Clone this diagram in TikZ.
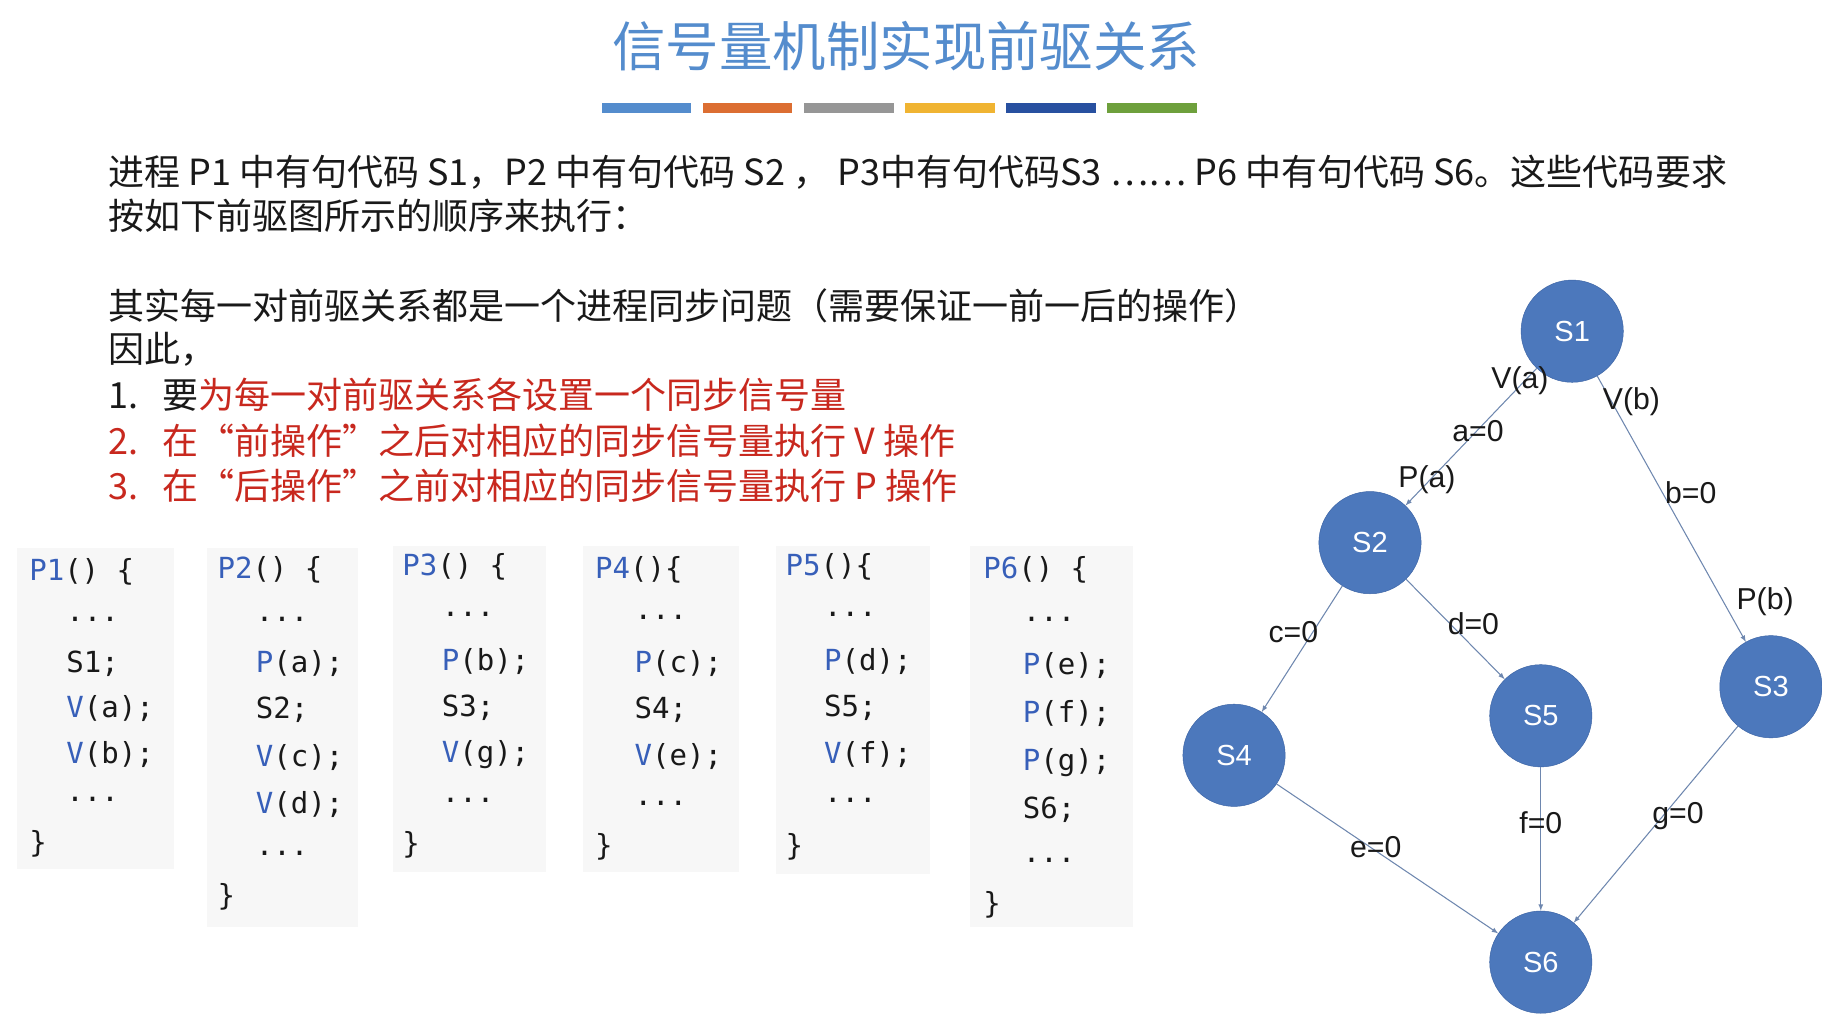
\documentclass[tikz,border=0pt]{standalone}
\usepackage{fontspec}
\setmainfont{Noto Sans CJK SC}
\newfontfamily\cjk{Noto Sans CJK SC}
\newfontfamily\codef{DejaVu Sans Mono}
\newfontfamily\lab{Liberation Sans}
\definecolor{ttl}{RGB}{84,140,205}
\definecolor{nodefill}{RGB}{76,120,188}
\definecolor{nodeedge}{RGB}{60,100,165}
\definecolor{kw}{RGB}{55,95,185}
\definecolor{redt}{RGB}{200,40,30}
\definecolor{codebg}{RGB}{247,247,247}
\definecolor{edgec}{RGB}{110,135,175}
\definecolor{txt}{RGB}{25,25,25}
\definecolor{bc1}{RGB}{84,140,205}
\definecolor{bc2}{RGB}{220,110,50}
\definecolor{bc3}{RGB}{150,150,150}
\definecolor{bc4}{RGB}{240,180,50}
\definecolor{bc5}{RGB}{40,80,160}
\definecolor{bc6}{RGB}{110,160,60}
\begin{document}
\begin{tikzpicture}[x=1pt,y=-1pt,
  sn/.style={circle,fill=nodefill,draw=nodeedge,minimum size=88pt,inner sep=0pt,text=white,font=\lab\fontsize{25}{28}\selectfont},
  ed/.style={draw=edgec,line width=0.9pt,-latex},
  el/.style={font=\lab\fontsize{26}{28}\selectfont,text=txt},
  tx/.style={anchor=west,font=\cjk\fontsize{31}{34}\selectfont,text=txt,inner sep=0pt},
  cd/.style={anchor=west,font=\codef\fontsize{25}{30}\selectfont,text=txt,inner sep=0pt},
  bg/.style={fill=codebg,draw=none}]
\useasboundingbox (0,0) rectangle (1568,878);
\fill[white] (0,0) rectangle (1568,878);
\node[font=\cjk\fontsize{46}{50}\selectfont,text=ttl] (title) at (780,40) {信号量机制实现前驱关系};
\foreach \c/\x in {bc1/518,bc2/605,bc3/692,bc4/779,bc5/866,bc6/953}{
  \fill[\c] (\x,89) rectangle (\x+77,97);}
\node[tx] (t1) at (93,148) {进程 P1 中有句代码 S1，P2 中有句代码 S2 ，  P3中有句代码S3 …… P6 中有句代码 S6。这些代码要求};
\node[tx] (t2) at (93,186) {按如下前驱图所示的顺序来执行：};
\node[tx] (t3) at (93,263) {其实每一对前驱关系都是一个进程同步问题（需要保证一前一后的操作）};
\node[tx] (t4) at (93,301) {因此，};
\node[tx] (t5) at (93,340) {1.\ \ \ 要\textcolor{redt}{为每一对前驱关系各设置一个同步信号量}};
\node[tx,text=redt] (t6) at (93,379) {2.\ \ \ 在“前操作”之后对相应的同步信号量执行 V 操作};
\node[tx,text=redt] (t7) at (93,418) {3.\ \ \ 在“后操作”之前对相应的同步信号量执行 P 操作};
% code boxes
\fill[bg] (15,472) rectangle (150,748);
\fill[bg] (178,472) rectangle (308,798);
\fill[bg] (338,470) rectangle (470,750);
\fill[bg] (502,470) rectangle (636,750);
\fill[bg] (668,470) rectangle (800,752);
\fill[bg] (835,470) rectangle (975,798);
% P1
\node[cd] (a1) at (25,492) {\textcolor{kw}{P1}() \{};
\node[cd] (a2) at (57,533) {...};
\node[cd] (a3) at (57,571) {S1;};
\node[cd] (a4) at (57,610) {\textcolor{kw}{V}(a);};
\node[cd] (a5) at (57,649) {\textcolor{kw}{V}(b);};
\node[cd] (a6) at (57,688) {...};
\node[cd] (a7) at (25,726) {\}};
% P2
\node[cd] (b1) at (187,490) {\textcolor{kw}{P2}() \{};
\node[cd] (b2) at (220,533) {...};
\node[cd] (b3) at (220,571) {\textcolor{kw}{P}(a);};
\node[cd] (b4) at (220,611) {S2;};
\node[cd] (b5) at (220,652) {\textcolor{kw}{V}(c);};
\node[cd] (b6) at (220,692) {\textcolor{kw}{V}(d);};
\node[cd] (b7) at (220,734) {...};
\node[cd] (b8) at (187,772) {\}};
% P3
\node[cd] (c1) at (346,488) {\textcolor{kw}{P3}() \{};
\node[cd] (c2) at (380,529) {...};
\node[cd] (c3) at (380,569) {\textcolor{kw}{P}(b);};
\node[cd] (c4) at (380,609) {S3;};
\node[cd] (c5) at (380,649) {\textcolor{kw}{V}(g);};
\node[cd] (c6) at (380,689) {...};
\node[cd] (c7) at (346,727) {\}};
% P4
\node[cd] (d1) at (512,490) {\textcolor{kw}{P4}()\{};
\node[cd] (d2) at (546,531) {...};
\node[cd] (d3) at (546,571) {\textcolor{kw}{P}(c);};
\node[cd] (d4) at (546,611) {S4;};
\node[cd] (d5) at (546,651) {\textcolor{kw}{V}(e);};
\node[cd] (d6) at (546,691) {...};
\node[cd] (d7) at (512,729) {\}};
% P5
\node[cd] (e1) at (676,488) {\textcolor{kw}{P5}()\{};
\node[cd] (e2) at (709,529) {...};
\node[cd] (e3) at (709,569) {\textcolor{kw}{P}(d);};
\node[cd] (e4) at (709,609) {S5;};
\node[cd] (e5) at (709,649) {\textcolor{kw}{V}(f);};
\node[cd] (e6) at (709,689) {...};
\node[cd] (e7) at (676,729) {\}};
% P6
\node[cd] (f1) at (846,490) {\textcolor{kw}{P6}() \{};
\node[cd] (f2) at (880,533) {...};
\node[cd] (f3) at (880,573) {\textcolor{kw}{P}(e);};
\node[cd] (f4) at (880,614) {\textcolor{kw}{P}(f);};
\node[cd] (f5) at (880,656) {\textcolor{kw}{P}(g);};
\node[cd] (f6) at (880,697) {S6;};
\node[cd] (f7) at (880,740) {...};
\node[cd] (f8) at (846,779) {\}};
% graph
\node[sn] (S1) at (1353,285) {S1};
\node[sn] (S2) at (1179,467) {S2};
\node[sn] (S3) at (1524,591) {S3};
\node[sn] (S4) at (1062,650) {S4};
\node[sn] (S5) at (1326,616) {S5};
\node[sn] (S6) at (1326,828) {S6};
\draw[ed] (S1) -- (S2);
\draw[ed] (S1) -- (S3);
\draw[ed] (S2) -- (S4);
\draw[ed] (S2) -- (S5);
\draw[ed] (S4) -- (S6);
\draw[ed] (S5) -- (S6);
\draw[ed] (S3) -- (S6);
\node[el] (la) at (1308,328) {V(a)};
\node[el] (lb) at (1404,346) {V(b)};
\node[el] (lc) at (1272,371) {a=0};
\node[el] (ld) at (1228,413) {P(a)};
\node[el] (le) at (1455,424) {b=0};
\node[el] (lf) at (1519,518) {P(b)};
\node[el] (lg) at (1113,544) {c=0};
\node[el] (lh) at (1268,537) {d=0};
\node[el] (li) at (1184,729) {e=0};
\node[el] (lj) at (1326,708) {f=0};
\node[el] (lk) at (1444,702) {g=0};
\end{tikzpicture}
\end{document}
